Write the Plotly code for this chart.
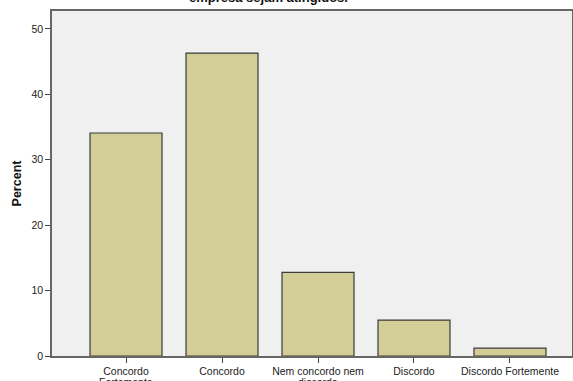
import plotly.graph_objects as go

# Response categories and percentage of respondents
categories = ["Concordo", "Concordo", "Nem concordo nem", "Discordo", "Discordo Fortemente"]
categories_line2 = ["Fortemente", "", "discordo", "", ""]
percent = [34.1, 46.3, 12.8, 5.5, 1.2]
y_ticks = [0, 10, 20, 30, 40, 50]

W, H = 573, 381
L, R, T, B = 52, 1, 11, 25
PH = H - T - B

fig = go.Figure(
    go.Bar(
        x=list(range(len(categories))),
        y=percent,
        width=0.75,
        marker=dict(color="#D3CE97", line=dict(color="#3a3a3a", width=1.2)),
        hoverinfo="skip",
    )
)

fig.update_layout(
    width=W, height=H,
    margin=dict(l=L, r=R, t=T, b=B, pad=0),
    paper_bgcolor="white",
    plot_bgcolor="#F0F0F0",
    font=dict(family="Arial, Liberation Sans, sans-serif", size=11, color="#222"),
    showlegend=False,
    bargap=0.25,
)

fig.update_xaxes(
    automargin=False,
    range=[-0.771, 4.646],
    tickmode="array",
    tickvals=list(range(len(categories))),
    ticktext=categories,
    ticks="outside", ticklen=5, tickcolor="#444", tickwidth=1,
    showline=True, linecolor="#666", linewidth=1.5, mirror=True,
    showgrid=False, zeroline=False,
    tickfont=dict(size=10.5, color="#222"),
)

fig.update_yaxes(
    automargin=False,
    range=[0, 52.75],
    tickmode="array",
    tickvals=y_ticks,
    ticks="outside", ticklen=5, tickcolor="#444", tickwidth=1,
    showline=True, linecolor="#666", linewidth=1.5, mirror=True,
    showgrid=False, zeroline=False,
    tickfont=dict(size=10.5, color="#222"),
    title=dict(text="<b>Percent</b>", font=dict(size=12.5, color="#111"), standoff=7),
)

# Wrapped second lines of the long category labels
for i, txt in enumerate(categories_line2):
    if txt:
        fig.add_annotation(
            text=txt, xref="x", yref="paper",
            x=i, y=-(375 - 356) / PH,
            xanchor="center", yanchor="top",
            borderpad=0,
            showarrow=False,
            font=dict(size=10.5, color="#222"),
        )

# Last line of the chart title, clipped at the top edge of the page
fig.add_annotation(
    text="<b>empresa sejam atingidos.</b>",
    xref="paper", yref="paper",
    x=(268 - L) / (W - L - R), y=1 + (11 - 7) / PH,
    xanchor="center", yanchor="bottom",
    showarrow=False,
    font=dict(size=13, color="#111"),
)

fig.write_html("out.html")
